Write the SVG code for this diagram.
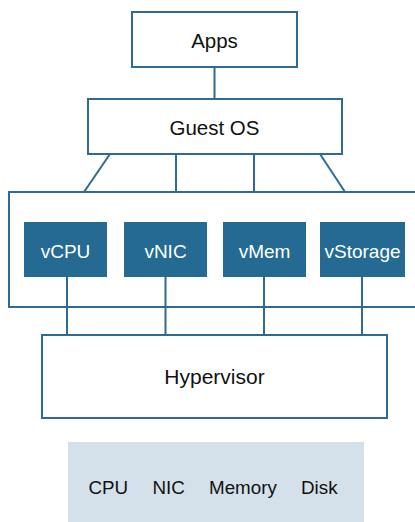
<svg xmlns="http://www.w3.org/2000/svg" width="415" height="522" viewBox="0 0 415 522">
<style>
.box{fill:#ffffff;stroke:#2c6b93;stroke-width:2}
.vbox{fill:#246a93}
.line{stroke:#2c6b93;stroke-width:2;fill:none}
.t{font-family:"Liberation Sans",Arial,sans-serif;font-size:20.5px;fill:#111;text-anchor:middle}
.w{font-family:"Liberation Sans",Arial,sans-serif;font-size:19px;fill:#ffffff;text-anchor:middle}
.h{font-family:"Liberation Sans",Arial,sans-serif;font-size:18.8px;fill:#111}
</style>
<rect width="415" height="522" fill="#ffffff"/>
<g id="connectors">
<line class="line" x1="214.5" y1="67" x2="214.5" y2="99"/>
<line class="line" x1="110" y1="154" x2="84" y2="192"/>
<line class="line" x1="176" y1="154" x2="176" y2="192"/>
<line class="line" x1="254" y1="154" x2="254" y2="192"/>
<line class="line" x1="320" y1="154" x2="345" y2="192"/>
<line class="line" x1="67" y1="277" x2="67" y2="335"/>
<line class="line" x1="165.5" y1="277" x2="165.5" y2="335"/>
<line class="line" x1="264" y1="277" x2="264" y2="335"/>
<line class="line" x1="362" y1="277" x2="362" y2="335"/>
</g>
<g id="vm">
<path class="line" d="M420 192 H9 V307 H420"/>
</g>
<g id="apps">
<rect class="box" x="132" y="12" width="165" height="55"/>
<text class="t" x="214.5" y="48">Apps</text>
</g>
<g id="guestos">
<rect class="box" x="88" y="99" width="254" height="55"/>
<text class="t" x="214.5" y="135">Guest OS</text>
</g>
<g id="vcpu">
<rect class="vbox" x="24" y="222" width="83" height="55"/>
<text class="w" x="65.5" y="258">vCPU</text>
</g>
<g id="vnic">
<rect class="vbox" x="124" y="222" width="83" height="55"/>
<text class="w" x="165.5" y="258">vNIC</text>
</g>
<g id="vmem">
<rect class="vbox" x="223" y="222" width="83" height="55"/>
<text class="w" x="264.5" y="258">vMem</text>
</g>
<g id="vstorage">
<rect class="vbox" x="320" y="222" width="85" height="55"/>
<text class="w" x="362.5" y="258">vStorage</text>
</g>
<g id="hypervisor">
<rect class="box" x="42" y="335" width="345" height="83"/>
<text class="t" x="214.5" y="384" style="font-size:21px">Hypervisor</text>
</g>
<g id="hardware">
<rect x="68" y="442" width="296" height="80" fill="#d4e1ea"/>
<text class="h" x="88.5" y="494">CPU</text>
<text class="h" x="152.5" y="494">NIC</text>
<text class="h" x="209" y="494">Memory</text>
<text class="h" x="301" y="494">Disk</text>
</g>
</svg>
